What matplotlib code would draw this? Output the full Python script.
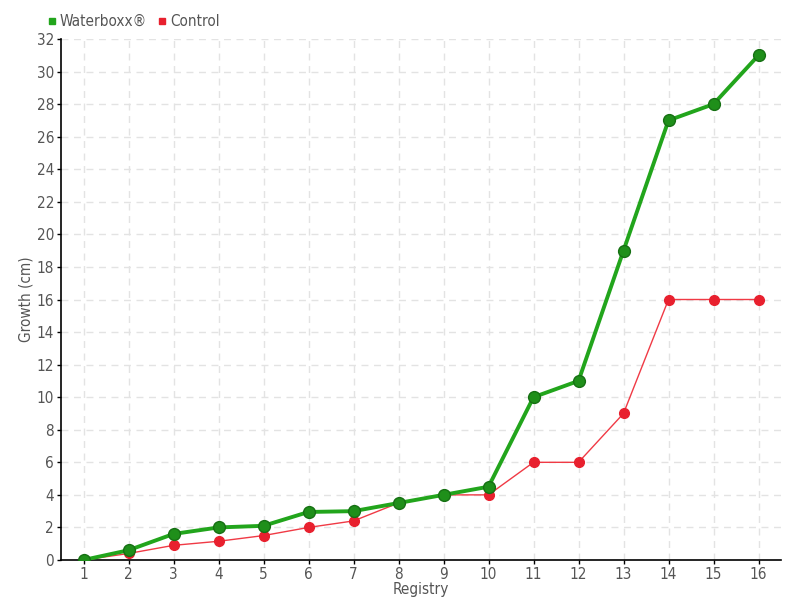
import matplotlib
matplotlib.use("Agg")
import matplotlib.pyplot as plt
from matplotlib.lines import Line2D

registry = list(range(1, 17))
waterboxx = [0, 0.6, 1.6, 2.0, 2.1, 2.95, 3.0, 3.5, 4.0, 4.5, 10, 11, 19, 27, 28, 31]
control = [0, 0.4, 0.9, 1.15, 1.5, 2.0, 2.4, 3.5, 4.0, 4.0, 6, 6, 9, 16, 16, 16]
yticks = list(range(0, 33, 2))

plt.rcParams['font.family'] = ['DejaVu Sans']
plt.rcParams['font.stretch'] = 'condensed'
txt = '#555555'

fig = plt.figure(figsize=(8, 6), dpi=100)
ax = fig.add_axes([61/800, 40/600, 720/800, 521/600])

# control first so green draws on top
ax.plot(registry, control, color='#f03a45', lw=1, marker='o', ms=7,
        mfc='#e8202e', mec='#e8202e', zorder=3)
ax.plot(registry, waterboxx, color='#22a51c', lw=2.8, marker='o', ms=8.5,
        mfc='#1f8f1a', mec='#167013', mew=1, zorder=4)

ax.set_xlim(0.5, 16.5)
ax.set_ylim(0, 32)
ax.set_xticks(registry)
ax.set_yticks(yticks)
ax.grid(True, color='#e3e3e3', ls=(0, (5, 4)), lw=1)
ax.set_axisbelow(True)
for s in ['top', 'right']:
    ax.spines[s].set_visible(False)
for s in ['left', 'bottom']:
    ax.spines[s].set_color('black')
    ax.spines[s].set_linewidth(1.2)
ax.tick_params(colors=txt, labelsize=11, length=3, width=1, pad=2)
ax.tick_params(axis='both', color='black')
ax.set_xlabel('Registry', color=txt, fontsize=11, labelpad=0)
ax.set_ylabel('Growth (cm)', color=txt, fontsize=11, labelpad=2)

handles = [Line2D([], [], ls='none', marker='s', ms=5, color='#22a51c'),
           Line2D([], [], ls='none', marker='s', ms=5, color='#e8202e')]
fig.legend(handles, ['Waterboxx®', 'Control'], loc='upper left',
           bbox_to_anchor=(46/800, 1 - 14/600), ncol=2, frameon=False,
           handletextpad=0.1, columnspacing=0.6, handlelength=0.8,
           labelcolor=txt, fontsize=11, borderaxespad=0, borderpad=0)

fig.savefig('out.png', dpi=100)
